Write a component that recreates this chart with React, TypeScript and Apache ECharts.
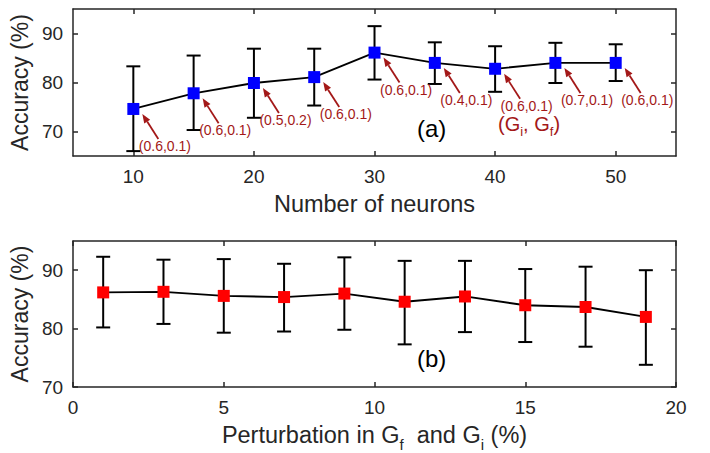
import React, { useEffect, useRef } from "react";
import * as echarts from "echarts";

// ---- Data ----
const neurons = [10, 15, 20, 25, 30, 35, 40, 45, 50];
const accNeurons = [74.6, 77.8, 79.9, 81.1, 86.1, 84.0, 82.8, 84.0, 84.0];
const accNeuronsLow = [66.0, 70.3, 72.8, 75.3, 80.6, 79.7, 78.1, 79.9, 80.3];
const accNeuronsHigh = [83.3, 85.5, 86.9, 86.9, 91.5, 88.2, 87.4, 88.1, 87.8];
const gainLabels = [
  "(0.6,0.1)", "(0.6,0.1)", "(0.5,0.2)", "(0.6,0.1)", "(0.6,0.1)",
  "(0.4,0.1)", "(0.6,0.1)", "(0.7,0.1)", "(0.6,0.1)",
];

const perturbation = [1, 3, 5, 7, 9, 11, 13, 15, 17, 19];
const accPert = [86.2, 86.3, 85.6, 85.4, 86.0, 84.6, 85.5, 84.0, 83.7, 82.0];
const accPertLow = [80.2, 80.8, 79.3, 79.5, 79.8, 77.3, 79.4, 77.7, 76.9, 73.8];
const accPertHigh = [92.3, 91.8, 91.9, 91.1, 92.2, 91.6, 91.6, 90.2, 90.6, 90.0];

const xTicksTop = [10, 20, 30, 40, 50];
const yTicksTop = [70, 80, 90];
const xTicksBottom = [0, 5, 10, 15, 20];
const yTicksBottom = [70, 80, 90];

const FONT = "Liberation Sans";
const TXT = "#262626";
const RED_ANN = "#A31818";

const axisLine = { show: true, onZero: false, lineStyle: { color: TXT, width: 1.5 } };

function xAxisPair(grid: number, min: number, max: number, ticks: number[], name: any, rich?: any) {
  return [
    {
      gridIndex: grid, type: "value", min, max, position: "bottom",
      axisLine,
      axisTick: { show: true, inside: true, length: 5, customValues: ticks, lineStyle: { color: TXT, width: 1.5 } },
      axisLabel: { customValues: ticks, fontSize: 19, color: TXT, margin: 11, fontFamily: FONT },
      splitLine: { show: false },
      name, nameLocation: "middle", nameGap: 36,
      nameTextStyle: { fontSize: 23.5, color: TXT, fontFamily: FONT, rich },
    },
    {
      gridIndex: grid, type: "value", min, max, position: "top",
      axisLine,
      axisTick: { show: true, inside: true, length: 5, customValues: ticks, lineStyle: { color: TXT, width: 1.5 } },
      axisLabel: { show: false },
      splitLine: { show: false },
    },
  ];
}

function yAxisPair(grid: number, min: number, max: number, ticks: number[]) {
  return [
    {
      gridIndex: grid, type: "value", min, max, position: "left",
      axisLine,
      axisTick: { show: true, inside: true, length: 5, customValues: ticks, lineStyle: { color: TXT, width: 1.5 } },
      axisLabel: { customValues: ticks, fontSize: 19, color: TXT, margin: 10, fontFamily: FONT },
      splitLine: { show: false },
      name: "Accuracy (%)", nameLocation: "middle", nameGap: 39,
      nameTextStyle: { fontSize: 23, color: TXT, fontFamily: FONT },
    },
    {
      gridIndex: grid, type: "value", min, max, position: "right",
      axisLine,
      axisTick: { show: true, inside: true, length: 5, customValues: ticks, lineStyle: { color: TXT, width: 1.5 } },
      axisLabel: { show: false },
      splitLine: { show: false },
    },
  ];
}

const errorBarRender = (params: any, api: any) => {
  const x = api.value(0);
  const lo = api.coord([x, api.value(1)]);
  const hi = api.coord([x, api.value(2)]);
  const w = 7;
  const style = { stroke: "#000", lineWidth: 2 };
  return {
    type: "group",
    children: [
      { type: "line", shape: { x1: lo[0], y1: lo[1], x2: hi[0], y2: hi[1] }, style },
      { type: "line", shape: { x1: lo[0] - w, y1: lo[1], x2: lo[0] + w, y2: lo[1] }, style },
      { type: "line", shape: { x1: hi[0] - w, y1: hi[1], x2: hi[0] + w, y2: hi[1] }, style },
    ],
  };
};

const annotationRender = (params: any, api: any) => {
  const p = api.coord([api.value(0), api.value(1)]);
  const label = gainLabels[params.dataIndex];
  const hx = p[0] + 9, hy = p[1] + 5;
  const tx = p[0] + 25, ty = p[1] + 30;
  const ang = Math.atan2(hy - ty, hx - tx);
  const L = 9, W = 3.5;
  const bx = hx - L * Math.cos(ang), by = hy - L * Math.sin(ang);
  const s = Math.sin(ang), c = Math.cos(ang);
  return {
    type: "group",
    children: [
      { type: "line", shape: { x1: tx, y1: ty, x2: bx, y2: by }, style: { stroke: RED_ANN, lineWidth: 1.8 } },
      {
        type: "polygon",
        shape: { points: [[hx, hy], [bx - W * s, by + W * c], [bx + W * s, by - W * c]] },
        style: { fill: RED_ANN },
      },
      {
        type: "text",
        style: {
          text: label, x: p[0] + 5.5, y: p[1] + 37, fill: RED_ANN,
          fontSize: 14, fontFamily: FONT, align: "left", verticalAlign: "middle",
        },
      },
    ],
  };
};

export default function App() {
  const ref = useRef<HTMLDivElement>(null);
  useEffect(() => {
    document.body.style.margin = "0";
    if (!ref.current) return;
    const chart = echarts.init(ref.current, undefined, { renderer: "svg" });

    const subRich = {
      m: { fontSize: 23.5, fontFamily: FONT, color: TXT, verticalAlign: "top", lineHeight: 26 },
      s: { fontSize: 15, fontFamily: FONT, color: TXT, verticalAlign: "top", lineHeight: 15, padding: [14, 0, 0, 0] },
    };

    const option: any = {
      animation: false,
      backgroundColor: "#fff",
      grid: [
        { left: 73, top: 9, width: 603, height: 147 },
        { left: 73, top: 241, width: 603, height: 147 },
      ],
      xAxis: [
        ...xAxisPair(0, 5, 55, xTicksTop, "Number of neurons"),
        ...xAxisPair(1, 0, 20, xTicksBottom, "{m|Perturbation in G}{s|f}{m|  and G}{s|i}{m| (%)}", subRich),
      ],
      yAxis: [...yAxisPair(0, 65, 95, yTicksTop), ...yAxisPair(1, 70, 95, yTicksBottom)],
      series: [
        {
          type: "custom", xAxisIndex: 0, yAxisIndex: 0, renderItem: errorBarRender, z: 2,
          data: neurons.map((x, i) => [x, accNeuronsLow[i], accNeuronsHigh[i]]),
        },
        {
          type: "line", xAxisIndex: 0, yAxisIndex: 0, z: 3,
          data: neurons.map((x, i) => [x, accNeurons[i]]),
          symbol: "rect", symbolSize: 12,
          itemStyle: { color: "#0000FF", borderWidth: 0 },
          lineStyle: { color: "#000", width: 1.8 },
        },
        {
          type: "custom", xAxisIndex: 0, yAxisIndex: 0, renderItem: annotationRender, z: 4,
          data: neurons.map((x, i) => [x, accNeurons[i]]),
        },
        {
          type: "custom", xAxisIndex: 2, yAxisIndex: 2, renderItem: errorBarRender, z: 2,
          data: perturbation.map((x, i) => [x, accPertLow[i], accPertHigh[i]]),
        },
        {
          type: "line", xAxisIndex: 2, yAxisIndex: 2, z: 3,
          data: perturbation.map((x, i) => [x, accPert[i]]),
          symbol: "rect", symbolSize: 12,
          itemStyle: { color: "#FF0000", borderWidth: 0 },
          lineStyle: { color: "#000", width: 1.8 },
        },
      ],
      graphic: [
        {
          type: "text", x: 417, y: 128,
          style: { text: "(a)", fontSize: 24, fontFamily: FONT, fill: "#000", verticalAlign: "middle" },
        },
        {
          type: "text", x: 417, y: 358,
          style: { text: "(b)", fontSize: 24, fontFamily: FONT, fill: "#000", verticalAlign: "middle" },
        },
        {
          type: "text", x: 498, y: 114,
          style: {
            text: "{m|(G}{s|i}{m|, G}{s|f}{m|)}",
            fill: RED_ANN, fontFamily: FONT, verticalAlign: "top",
            rich: {
              m: { fontSize: 20, fontFamily: FONT, fill: RED_ANN, color: RED_ANN, verticalAlign: "top", lineHeight: 22 },
              s: { fontSize: 13, fontFamily: FONT, fill: RED_ANN, color: RED_ANN, verticalAlign: "top", lineHeight: 13, padding: [11, 0, 0, 0] },
            },
          },
        },
      ],
    };
    chart.setOption(option);
    return () => chart.dispose();
  }, []);
  return <div ref={ref} style={{ width: 710, height: 453 }} />;
}
